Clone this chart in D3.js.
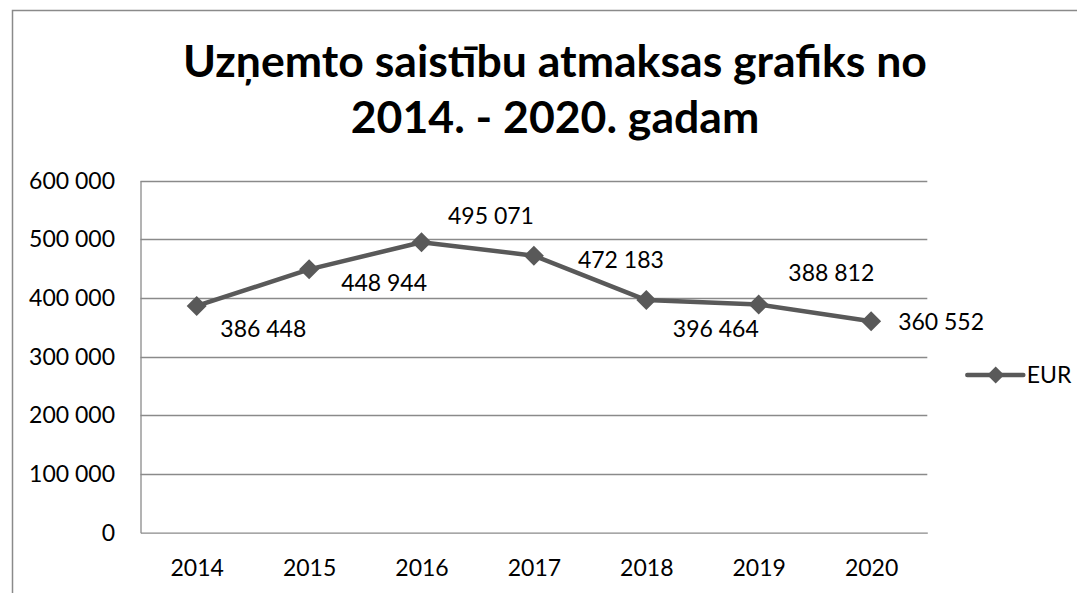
<!DOCTYPE html>
<html>
<head>
<meta charset="utf-8">
<script src="https://cdn.jsdelivr.net/npm/d3@7"></script>
<style>
  html, body { margin: 0; padding: 0; background: #fff; }
  svg { display: block; }
</style>
</head>
<body>
<svg id="chart" width="1077" height="593"></svg>
<script>
// ---- data ----
const titleLines = ["Uzņemto saistību atmaksas grafiks no", "2014. - 2020. gadam"];
const categories = ["2014", "2015", "2016", "2017", "2018", "2019", "2020"];
const values = [386448, 448944, 495071, 472183, 396464, 388812, 360552];
const seriesName = "EUR";
const yTicks = [0, 100000, 200000, 300000, 400000, 500000, 600000];

// ---- label placement (layout, not data) ----
const labelDx = [66.6, 75, 69.5, 87, 69.5, 72.6, 70];
const labelDy = [22.7, 14, -26, 4.3, 28.6, -31.3, 0.5];

const W = 1077, H = 593;
const plot = { left: 140.5, right: 927.3, top: 180.7, bottom: 532.7 };
const FONT = "Lato, 'Open Sans', sans-serif";
const lineColor = "#595959";
const gridColor = "#8a8a8a";

const svg = d3.select("#chart");

// chart border (left + top visible)
svg.append("path")
  .attr("d", `M12.5,${H} L12.5,10.5 L${W},10.5`)
  .attr("fill", "none").attr("stroke", gridColor).attr("stroke-width", 1.5);

// title
const title = svg.append("g");
const tl = title.selectAll("text").data(titleLines).join("text")
  .attr("x", 555)
  .attr("y", (d, i) => 76.7 + i * 56)
  .attr("text-anchor", "middle")
  .attr("font-family", FONT)
  .attr("font-weight", "bold")
  .attr("font-size", 44)
  .attr("fill", "#000")
  .text(d => d);
// fit first line to measured width
const w0 = tl.nodes()[0].getComputedTextLength();
const fs = 44 * 744 / w0;
tl.attr("font-size", fs);

// scales
const x = d3.scalePoint().domain(categories).range([plot.left, plot.right]).padding(0.5);
const y = d3.scaleLinear().domain([0, 600000]).range([plot.bottom, plot.top]);

const loc = d3.formatLocale({ decimal: ",", thousands: " ", grouping: [3], currency: ["", ""] });
const fmt = loc.format(",d");

// gridlines
svg.append("g").selectAll("line").data(yTicks.filter(d => d > 0)).join("line")
  .attr("x1", plot.left).attr("x2", plot.right)
  .attr("y1", d => Math.round(y(d)) + 0.5).attr("y2", d => Math.round(y(d)) + 0.5)
  .attr("stroke", gridColor).attr("stroke-width", 1.3);

// y axis
const yAxis = svg.append("g")
  .attr("transform", `translate(${plot.left},0)`)
  .call(d3.axisLeft(y).tickValues(yTicks).tickSize(0).tickPadding(25.5).tickFormat(fmt));
yAxis.select(".domain").attr("stroke", gridColor).attr("stroke-width", 1.3);
yAxis.selectAll("text").attr("font-family", FONT).attr("font-size", 23).attr("fill", "#000");

// x axis
const xAxis = svg.append("g")
  .attr("transform", `translate(0,${plot.bottom})`)
  .call(d3.axisBottom(x).tickSize(0).tickPadding(26.6));
xAxis.select(".domain").attr("stroke", gridColor).attr("stroke-width", 1.3);
xAxis.selectAll("text").attr("font-family", FONT).attr("font-size", 23).attr("fill", "#000");

// line
const pts = categories.map((c, i) => ({ c, v: values[i], i }));
svg.append("path")
  .datum(pts)
  .attr("d", d3.line().x(d => x(d.c)).y(d => y(d.v)))
  .attr("fill", "none").attr("stroke", lineColor).attr("stroke-width", 4.5)
  .attr("stroke-linejoin", "round");

// markers
const diamond = d3.symbol().type(d3.symbolSquare).size(200);
svg.append("g").selectAll("path").data(pts).join("path")
  .attr("d", diamond)
  .attr("transform", d => `translate(${x(d.c)},${y(d.v)}) rotate(45)`)
  .attr("fill", lineColor);

// data labels
svg.append("g").selectAll("text").data(pts).join("text")
  .attr("x", d => x(d.c) + labelDx[d.i])
  .attr("y", d => y(d.v) + labelDy[d.i])
  .attr("dy", "0.35em")
  .attr("text-anchor", "middle")
  .attr("font-family", FONT).attr("font-size", 23).attr("fill", "#000")
  .text(d => fmt(d.v));

// legend
const lg = svg.append("g").attr("transform", "translate(967.3,375)");
lg.append("line").attr("x1", 0).attr("x2", 56).attr("y1", 0).attr("y2", 0)
  .attr("stroke", lineColor).attr("stroke-width", 4.5).attr("stroke-linecap", "round");
lg.append("path").attr("d", d3.symbol().type(d3.symbolSquare).size(144)())
  .attr("transform", "translate(28.4,0) rotate(45)").attr("fill", lineColor);
lg.append("text").attr("x", 59.4).attr("dy", "0.35em")
  .attr("font-family", FONT).attr("font-size", 23).attr("fill", "#000")
  .text(seriesName);
</script>
</body>
</html>
